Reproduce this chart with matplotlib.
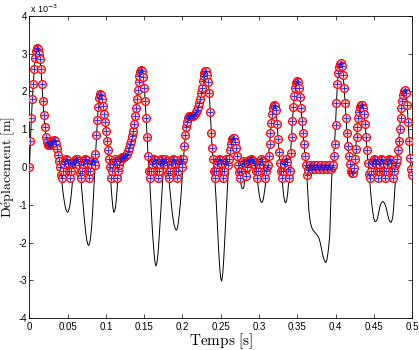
import numpy as np
import matplotlib
matplotlib.use('Agg')
import matplotlib.pyplot as plt

plt.rcParams['font.family'] = ['Liberation Sans', 'DejaVu Sans']
plt.rcParams['mathtext.fontset'] = 'cm'
plt.rcParams['axes.unicode_minus'] = False

# echantillonnage (s)
t_debut = 0.0
t_fin = 0.5
n_pts = 401

# deplacement libre (x 1e-3 m), trait noir -- une ligne = 0.01 s
depl_libre = [
    0.0, 0.7, 1.3, 1.8, 2.2, 2.6, 2.9, 3.08,            # 0.00
    3.15, 3.12, 3.0, 2.85, 2.6, 2.2, 1.75, 1.38,        # 0.01
    1.05, 0.8, 0.65, 0.58, 0.57, 0.57, 0.6, 0.63,       # 0.02
    0.67, 0.7, 0.71, 0.68, 0.6, 0.48, 0.32, 0.16,       # 0.03
    0.0, -0.22, -0.45, -0.66, -0.85, -1.0, -1.12, -1.18,  # 0.04
    -1.2, -1.15, -1.05, -0.88, -0.65, -0.36, -0.05, 0.1,  # 0.05
    0.18, 0.21, 0.22, 0.16, 0.05, -0.15, -0.4, -0.7,    # 0.06
    -1.0, -1.28, -1.55, -1.78, -1.95, -2.05, -2.08, -2.0,  # 0.07
    -1.85, -1.58, -1.2, -0.7, -0.15, 0.35, 0.85, 1.25,  # 0.08
    1.6, 1.82, 1.93, 1.92, 1.8, 1.62, 1.4, 1.18,        # 0.09
    0.95, 0.7, 0.45, 0.22, 0.0, -0.38, -0.75, -1.02,    # 0.10
    -1.2, -1.18, -1.05, -0.8, -0.45, -0.15, 0.05, 0.17,  # 0.11
    0.25, 0.26, 0.26, 0.27, 0.28, 0.31, 0.35, 0.42,     # 0.12
    0.5, 0.6, 0.7, 0.82, 0.95, 1.13, 1.35, 1.57,        # 0.13
    1.8, 2.05, 2.25, 2.42, 2.52, 2.58, 2.55, 2.38,      # 0.14
    2.1, 1.75, 1.3, 0.8, 0.3, -0.1, -0.5, -0.98,        # 0.15
    -1.45, -1.87, -2.2, -2.48, -2.62, -2.58, -2.4, -2.1,  # 0.16
    -1.7, -1.3, -0.9, -0.45, -0.05, 0.12, 0.2, 0.15,    # 0.17
    0.05, -0.15, -0.4, -0.65, -0.9, -1.15, -1.35, -1.5,  # 0.18
    -1.6, -1.66, -1.67, -1.58, -1.4, -1.17, -0.9, -0.55,  # 0.19
    -0.15, 0.2, 0.55, 0.85, 1.05, 1.2, 1.3, 1.34,       # 0.20
    1.35, 1.35, 1.35, 1.36, 1.38, 1.41, 1.45, 1.52,     # 0.21
    1.6, 1.7, 1.8, 1.95, 2.1, 2.27, 2.4, 2.5,           # 0.22
    2.55, 2.54, 2.45, 2.25, 1.95, 1.45, 0.9, 0.5,       # 0.23
    0.2, -0.1, -0.4, -0.8, -1.3, -1.85, -2.3, -2.7,     # 0.24
    -2.95, -3.02, -2.85, -2.5, -2.0, -1.5, -1.0, -0.55,  # 0.25
    -0.1, 0.2, 0.45, 0.62, 0.75, 0.78, 0.78, 0.67,      # 0.26
    0.5, 0.28, 0.05, -0.14, -0.3, -0.44, -0.55, -0.58,  # 0.27
    -0.55, -0.38, -0.15, 0.0, 0.1, 0.15, 0.18, 0.19,    # 0.28
    0.2, 0.19, 0.15, 0.1, 0.05, -0.1, -0.3, -0.5,       # 0.29
    -0.7, -0.83, -0.92, -0.94, -0.9, -0.78, -0.6, -0.42,  # 0.30
    -0.2, 0.05, 0.3, 0.6, 0.9, 1.17, 1.4, 1.55,         # 0.31
    1.63, 1.62, 1.5, 1.15, 0.75, 0.4, 0.1, -0.1,        # 0.32
    -0.3, -0.55, -0.8, -0.92, -0.95, -0.87, -0.7, -0.4,  # 0.33
    -0.05, 0.38, 0.8, 1.22, 1.6, 1.88, 2.1, 2.23,       # 0.34
    2.28, 2.24, 2.1, 1.85, 1.55, 1.22, 0.9, 0.6,        # 0.35
    0.3, 0.05, -0.2, -0.65, -1.1, -1.35, -1.5, -1.59,   # 0.36
    -1.65, -1.69, -1.72, -1.75, -1.78, -1.81, -1.85, -1.91,  # 0.37
    -2.0, -2.12, -2.25, -2.37, -2.45, -2.51, -2.53, -2.45,  # 0.38
    -2.3, -2.08, -1.8, -1.0, -0.3, 0.05, 0.3, 0.6,      # 0.39
    1.1, 1.7, 2.2, 2.5, 2.65, 2.73, 2.75, 2.68,         # 0.40
    2.45, 2.1, 1.7, 1.3, 0.9, 0.55, 0.3, 0.08,          # 0.41
    -0.1, -0.16, -0.15, -0.03, 0.2, 0.48, 0.8, 1.07,    # 0.42
    1.3, 1.47, 1.58, 1.63, 1.63, 1.55, 1.4, 1.13,       # 0.43
    0.8, 0.45, 0.1, -0.18, -0.45, -0.72, -1.0, -1.2,    # 0.44
    -1.35, -1.43, -1.45, -1.42, -1.35, -1.22, -1.1, -1.0,  # 0.45
    -0.95, -0.92, -0.92, -0.95, -1.0, -1.08, -1.2, -1.31,  # 0.46
    -1.4, -1.45, -1.47, -1.42, -1.3, -1.0, -0.6, -0.2,  # 0.47
    0.2, 0.45, 0.7, 1.0, 1.3, 1.55, 1.75, 1.92,         # 0.48
    2.02, 2.03, 1.95, 1.65, 1.2, 0.7, 0.25, -0.05,      # 0.49
    -0.2,                                               # 0.50
]

# phases de contact : debut (s) et deplacement mesure (x 1e-3 m) des marqueurs
rebond_debut = [0.04, 0.06625, 0.105, 0.15625, 0.18125, 0.24125,
                0.27375, 0.29625, 0.32875, 0.3625, 0.44375]
rebond_valeurs = [
    [0.0, -0.22, -0.3, -0.1, 0.08, 0.16, 0.2, 0.18, 0.1, -0.1, -0.3, -0.1, 0.08, 0.14, 0.1],
    [-0.15, -0.3, -0.1, 0.08, 0.16, 0.2, 0.18, 0.1, -0.1, -0.3, -0.1, 0.08, 0.16, 0.18, 0.12, 0.05],
    [0.0, -0.3, -0.1, 0.08, 0.16, 0.2, 0.15, 0.0, -0.3, -0.1],
    [-0.1, -0.3, -0.1, 0.08, 0.16, 0.2, 0.18, 0.1, -0.1, -0.3, -0.1, 0.08, 0.16, 0.2, 0.18, 0.1],
    [-0.15, -0.3, -0.1, 0.08, 0.16, 0.2, 0.18, 0.1, -0.1, -0.3, -0.1, 0.08, 0.16, 0.2, 0.15, 0.0],
    [-0.1, -0.3, -0.1, 0.08, 0.16, 0.2, 0.18, 0.1, -0.1, -0.3, -0.1, 0.08, 0.16, 0.2, 0.15, 0.05],
    [-0.14, -0.3, -0.1, 0.08, 0.16, 0.1, -0.1, -0.25],
    [-0.1, -0.3, -0.1, 0.08, 0.16, 0.2, 0.15, 0.05, -0.1, -0.3, -0.1, 0.0],
    [-0.1, -0.3, -0.1, 0.08, 0.16, 0.2, 0.12, -0.05, -0.3, -0.1],
    [-0.2, -0.08, 0.0, 0.04, 0.0, -0.04, 0.0, 0.04, 0.0, -0.04, 0.0, 0.04, 0.0, -0.04,
     0.0, 0.04, 0.0, -0.04, 0.0, 0.04, 0.0, -0.04, 0.0, 0.04, 0.0, -0.04, 0.0],
    [-0.18, -0.3, -0.1, 0.08, 0.16, 0.2, 0.18, 0.1, -0.1, -0.3, -0.1, 0.08, 0.16, 0.2, 0.18,
     0.1, -0.1, -0.3, -0.1, 0.08, 0.16, 0.2, 0.18, 0.1, -0.1, -0.3, -0.1, 0.05, 0.1],
]

x_ticks = [0, 0.05, 0.1, 0.15, 0.2, 0.25, 0.3, 0.35, 0.4, 0.45, 0.5]
x_labels = ['0', '0.05', '0.1', '0.15', '0.2', '0.25', '0.3', '0.35', '0.4', '0.45', '0.5']
y_ticks = [-4, -3, -2, -1, 0, 1, 2, 3, 4]

temps = np.linspace(t_debut, t_fin, n_pts)
dt = temps[1] - temps[0]
libre = np.array(depl_libre)
contact = libre.copy()
for t0, vals in zip(rebond_debut, rebond_valeurs):
    k0 = int(round(t0 / dt))
    contact[k0:k0 + len(vals)] = vals
libre = libre * 1e-3
contact = contact * 1e-3

fig = plt.figure(figsize=(4.19, 3.5), dpi=100)
ax = fig.add_axes([0.0704, 0.0914, 0.9129, 0.8629])

ax.plot(temps, libre, color='black', lw=0.7, zorder=2)
ax.plot(temps, contact, ls='none', marker='o', ms=5.6, mfc='#f6cfe0', mec='red', mew=0.9, zorder=3)
ax.plot(temps, contact, ls='none', marker='+', ms=4.5, mec='#2020e0', mew=0.6, zorder=4)

ax.set_xlim(0, 0.5)
ax.set_ylim(-4e-3, 4e-3)
ax.set_xticks(x_ticks)
ax.set_xticklabels(x_labels)
ax.set_yticks([v * 1e-3 for v in y_ticks])
ax.set_yticklabels([str(v) for v in y_ticks])
ax.tick_params(direction='in', top=True, right=True, length=3, width=0.5,
               labelsize=7, pad=3)
ax.tick_params(axis='y', pad=2)
for sp in ax.spines.values():
    sp.set_linewidth(0.6)

fig.text(0.0716, 0.963, r'x 10$^{-3}$', fontsize=6.5, ha='left', va='baseline',
         math_fontfamily='dejavusans')
fig.text(0.527, 0.013, r'$\mathrm{Temps\ [s]}$', fontsize=11, ha='center', va='baseline')
fig.text(0.0195, 0.523, r'$\mathrm{D\acute{e}placement\ [m]}$', fontsize=10,
         ha='center', va='center', rotation=90)

fig.savefig('out.png', dpi=100)
